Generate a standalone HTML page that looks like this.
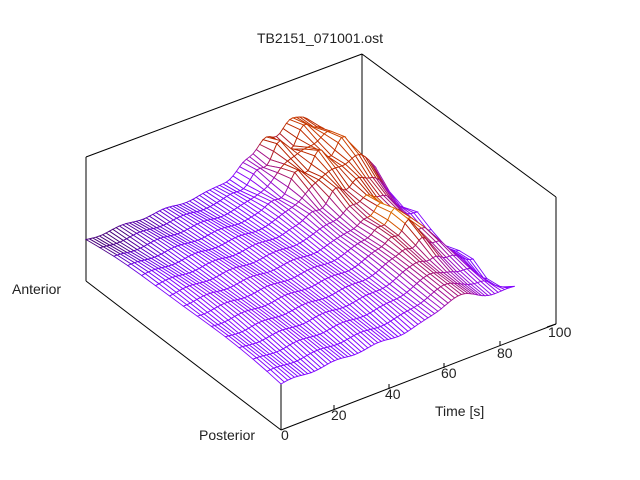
<!DOCTYPE html>
<html><head><meta charset="utf-8"><style>
body{margin:0;background:#fff}
svg{display:block}
text{font-family:"Liberation Sans",sans-serif;font-size:14px;fill:#222}
</style></head><body>
<svg id="s" width="640" height="480" viewBox="0 0 640 480" xmlns="http://www.w3.org/2000/svg">
<rect width="640" height="480" fill="#fff"/>
<g stroke="#000" stroke-width="1" fill="none">
<line x1="86" y1="157" x2="362" y2="54"/>
<line x1="362" y1="54" x2="556" y2="197"/>
<line x1="86" y1="157" x2="86" y2="281"/>
<line x1="362" y1="54" x2="362" y2="160"/>
<line x1="556" y1="197" x2="556" y2="324"/>
<line x1="86" y1="281" x2="281" y2="430"/>
<line x1="281" y1="430" x2="556" y2="324"/>
<line x1="281" y1="380" x2="281" y2="430"/>
<line x1="334" y1="410" x2="334" y2="405"/>
<line x1="389" y1="389" x2="389" y2="384"/>
<line x1="444" y1="368" x2="444" y2="363"/>
<line x1="500" y1="346" x2="500" y2="341"/>
<line x1="547" y1="327" x2="556" y2="324"/>
</g>
<g id="mesh"></g>
<text x="320" y="43" text-anchor="middle">TB2151_071001.ost</text>
<text x="12" y="294">Anterior</text>
<text x="199" y="440">Posterior</text>
<text x="281" y="440">0</text>
<text x="331" y="420">20</text>
<text x="385" y="399">40</text>
<text x="441" y="378">60</text>
<text x="497" y="358">80</text>
<text x="548" y="337">100</text>
<text x="435" y="416">Time [s]</text>
</svg>
<script>
(function(){
var O=[281,430],U=[275,-106],V=[-195,-149];
var NU=70,NV=14,UM=0.85;
function g(x,m,s){return Math.exp(-(x-m)*(x-m)/(2*s*s));}
function ss(a,b,x){var t=Math.min(1,Math.max(0,(x-a)/(b-a)));return t*t*(3-2*t);}
function H(u,v){
 var h=46+7*Math.sin(Math.PI*v)-5*v+8*u*(1-v);
 h+=1.2*Math.sin(u*40+v*9);
 var back=ss(0.45,0.8,v);
 h+=32*g(u,0.68,0.09)*back*(1+0.25*Math.sin(u*70)*Math.cos(v*20));
 h+=26*g(u,0.8,0.05)*back;
 h+=18*g(u,0.72,0.05)*g(v,0.4,0.12)*(1+0.3*Math.sin(u*90));
 h+=14*g(u,0.64,0.07)*(1-back)*(1-v);
 h-=14*ss(0.78,0.85,u)*Math.abs(Math.sin(v*13));
 return h;
}
function C(h,u,v){
 var x=0.25+(h-48)/50*0.48;
 if(u<0.35&&v>0.5)x-=0.18*((v-0.5)/0.5)*((0.35-u)/0.35);
 if(g(u,0.72,0.04)*g(v,0.4,0.08)>0.4)x+=0.22;
 x=Math.max(0.08,Math.min(0.95,x));
 var r=Math.sqrt(x),gg=x*x*x,b=Math.max(0,Math.sin(2*Math.PI*x));
 return 'rgb('+Math.round(r*255)+','+Math.round(gg*255)+','+Math.round(b*255)+')';
}
var P=[],Hs=[];
for(var i=0;i<=NU;i++){P[i]=[];Hs[i]=[];for(var j=0;j<=NV;j++){var u=UM*i/NU,v=j/NV,h=H(u,v);Hs[i][j]=h;
 P[i][j]=[O[0]+U[0]*u+V[0]*v,O[1]+U[1]*u+V[1]*v-h];}}
var q=[];
for(var i=0;i<NU;i++)for(var j=0;j<NV;j++)q.push([i,j,i/NU*1.0+j/NV]);
q.sort(function(a,b){return b[2]-a[2];});
var s='';
q.forEach(function(k){var i=k[0],j=k[1];
 var a=P[i][j],b=P[i+1][j],c=P[i+1][j+1],d=P[i][j+1];
 var h=(Hs[i][j]+Hs[i+1][j]+Hs[i+1][j+1]+Hs[i][j+1])/4;
 s+='<polygon points="'+a[0].toFixed(1)+','+a[1].toFixed(1)+' '+b[0].toFixed(1)+','+b[1].toFixed(1)+' '+c[0].toFixed(1)+','+c[1].toFixed(1)+' '+d[0].toFixed(1)+','+d[1].toFixed(1)+'" fill="#fff" stroke="'+C(h,UM*i/NU,j/NV)+'" stroke-width="0.9"/>';
});
document.getElementById('mesh').innerHTML=s;
})();
</script>
</body></html>
